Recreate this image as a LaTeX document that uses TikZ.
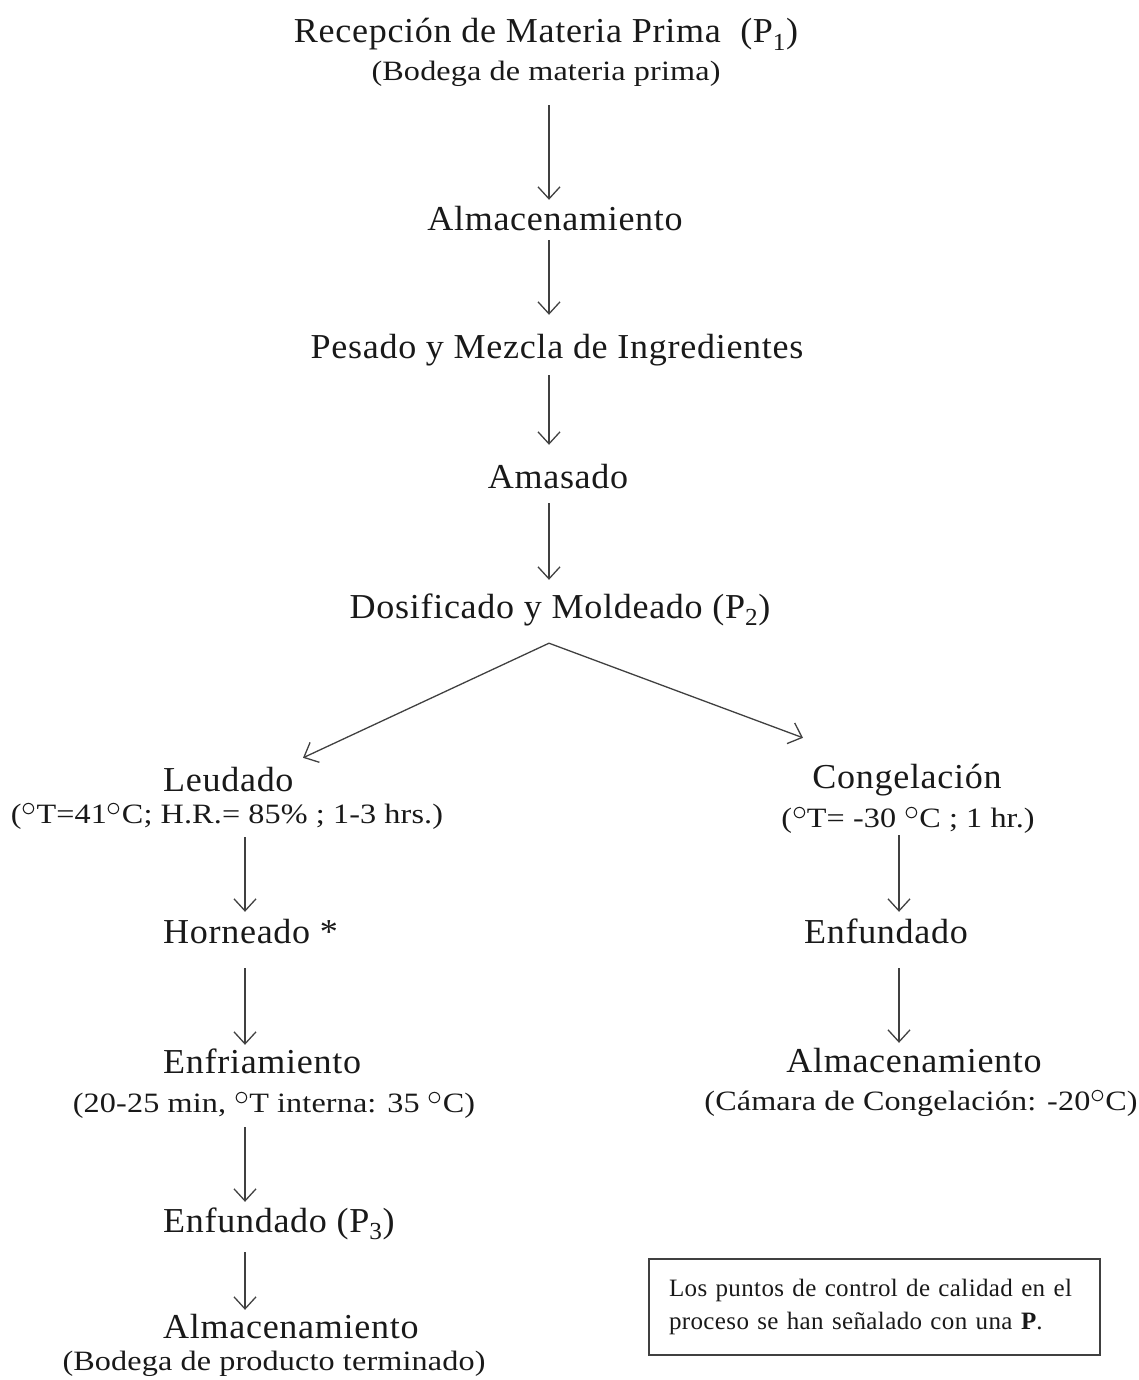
\documentclass[tikz,border=0pt]{standalone}
\usepackage{fontspec}
\setmainfont{Liberation Serif}
\newfontfamily\fuentepaso[LetterSpace=2,FakeStretch=1.03]{Liberation Serif}
\newfontfamily\fuentesub[LetterSpace=0.5,FakeStretch=1.15]{Liberation Serif}
\newfontfamily\fuentenota[LetterSpace=1.5]{Liberation Serif}
\usetikzlibrary{arrows.meta}
\newcommand{\grado}{\raisebox{0.24em}{\scalebox{1.2}{$\circ$}}}

\begin{document}
\begin{tikzpicture}[x=1pt, y=-1pt,
  paso/.style={inner sep=0pt, text height=24pt, text depth=8pt, text=black!90,
    font=\fuentepaso\fontsize{35}{40}\selectfont},
  cond/.style={inner sep=0pt, text height=19pt, text depth=7pt, text=black!90,
    font=\fuentesub\fontsize{28}{32}\selectfont},
  flecha/.style={draw=black!75, line width=1.3pt,
    -{Straight Barb[length=12pt,width=22pt]}},
  nota/.style={draw=black!75, line width=1.2pt, minimum width=451pt,
    minimum height=96pt, inner xsep=20pt, text width=411pt, align=left,
    text=black!90, font=\fuentenota\fontsize{25}{33}\selectfont}]

\useasboundingbox (0,0) rectangle (1138,1380);

\coordinate (colC) at (549,0);
\coordinate (colL) at (245,0);
\coordinate (colR) at (899,0);

\node[paso, anchor=base] (rec) at (546,43) {Recepción de Materia Prima\ \ (P\textsubscript{1})};
\node[cond, anchor=base] (bod) at (546,81) {(Bodega de materia prima)};
\node[paso, anchor=base] (alm) at (555,230) {Almacenamiento};
\node[paso, anchor=base] (pes) at (557,358) {Pesado y Mezcla de Ingredientes};
\node[paso, anchor=base] (ama) at (558,488) {Amasado};
\node[paso, anchor=base] (dos) at (560,618) {Dosificado y Moldeado (P\textsubscript{2})};

% rama izquierda
\node[paso, anchor=base west] (leu) at (163,791) {Leudado};
\node[cond, anchor=base] (leuc) at (227,823) {(\grado T=41\grado C; H.R.= 85\% ; 1-3 hrs.)};
\node[paso, anchor=base west] (hor) at (163,943) {Horneado *};
\node[paso, anchor=base west] (enfr) at (163,1073) {Enfriamiento};
\node[cond, anchor=base] (enfrc) at (274,1112) {(20-25 min, \grado T interna: 35 \grado C)};
\node[paso, anchor=base west] (enfu) at (163,1232) {Enfundado (P\textsubscript{3})};
\node[paso, anchor=base west] (almp) at (163,1338) {Almacenamiento};
\node[cond, anchor=base] (bodp) at (274,1370) {(Bodega de producto terminado)};

% rama derecha
\node[paso, anchor=base] (cong) at (907,788) {Congelación};
\node[cond, anchor=base] (congc) at (908,827) {(\grado T= -30 \grado C ; 1 hr.)};
\node[paso, anchor=base] (enfc) at (886,943) {Enfundado};
\node[paso, anchor=base] (almc) at (914,1072) {Almacenamiento};
\node[cond, anchor=base] (camc) at (921,1110) {(Cámara de Congelación: -20\grado C)};

\node[nota] (nota) at (874.5,1307) {Los puntos de control de calidad en el\\
  proceso se han señalado con una \textbf{P}.};

\draw[flecha, shorten <=17pt, shorten >=6pt] (colC |- bod.south) -- (colC |- alm.north);
\draw[flecha, shorten <=2pt, shorten >=19pt] (colC |- alm.south) -- (colC |- pes.north);
\draw[flecha, shorten <=9pt, shorten >=19pt] (colC |- pes.south) -- (colC |- ama.north);
\draw[flecha, shorten <=7pt, shorten >=14pt] (colC |- ama.south) -- (colC |- dos.north);

\path (colC |- dos.south) ++(0,17) coordinate (ramal);
\draw[flecha] (ramal) -- ([xshift=140pt,yshift=9pt]leu.north west);
\draw[flecha] (ramal) -- ([xshift=-104pt,yshift=26pt]cong.north);

\draw[flecha, shorten <=7pt, shorten >=7pt] (colL |- leuc.south) -- (colL |- hor.north);
\draw[flecha, shorten <=17pt, shorten >=4pt] (colL |- hor.south) -- (colL |- enfr.north);
\draw[flecha, shorten <=8pt, shorten >=6pt] (colL |- enfrc.south) -- (colL |- enfu.north);
\draw[flecha, shorten <=12pt, shorten >=4pt] (colL |- enfu.south) -- (colL |- almp.north);

\draw[flecha, shorten <=1pt, shorten >=7pt] (colR |- congc.south) -- (colR |- enfc.north);
\draw[flecha, shorten <=17pt, shorten >=5pt] (colR |- enfc.south) -- (colR |- almc.north);
\end{tikzpicture}
\end{document}
